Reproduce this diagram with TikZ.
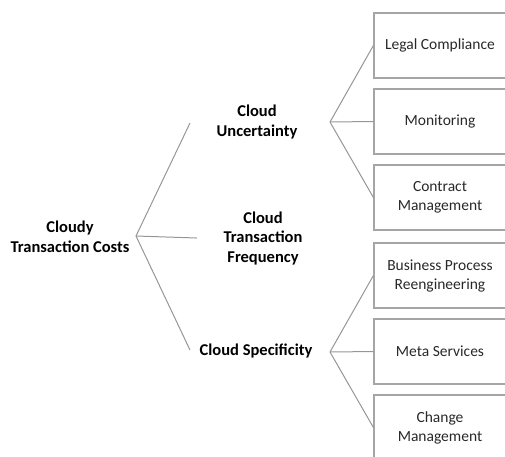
\documentclass[tikz,border=0pt]{standalone}
\usepackage{fontspec}
\setmainfont{Carlito}
\usetikzlibrary{positioning}
\definecolor{linecolor}{RGB}{150,150,150}
\definecolor{boxcolor}{RGB}{165,165,165}
\definecolor{textcolor}{RGB}{40,40,40}

\tikzset{
    mainlabel/.style={font=\fontsize{16.5}{19.5}\selectfont\bfseries, align=center, text=black},
    itembox/.style={draw=boxcolor, line width=1.2pt, minimum width=132pt, minimum height=65pt,
        font=\fontsize{15.5}{19}\selectfont, align=center, text=textcolor, inner sep=2pt},
    link/.style={draw=linecolor, line width=1pt}
}

\begin{document}
\begin{tikzpicture}[x=1pt, y=-1pt]
    \useasboundingbox (0,0) rectangle (505,456);
    \clip (0,0) rectangle (505,456);

    % Root and main factors
    \node[mainlabel] (costs) at (70, 237) {Cloudy\\Transaction Costs};
    \node[mainlabel] (uncert) at (257, 122) {Cloud\\Uncertainty};
    \node[mainlabel] (freq) at (263, 238) {Cloud\\Transaction\\Frequency};
    \node[mainlabel] (spec) at (256, 351) {Cloud Specificity};

    % Fan points
    \coordinate (rootFan) at (136, 236);
    \coordinate (uncertEnd) at (190, 123);
    \coordinate (freqEnd) at (197, 238);
    \coordinate (specEnd) at (190, 350);
    \coordinate (uncertFan) at (330, 122);
    \coordinate (specFan) at (330, 352);

    % Boxes on the right
    \node[itembox] (legal) at (440, 45.5) {Legal Compliance};
    \node[itembox] (monit) at (440, 121.5) {Monitoring};
    \node[itembox] (contract) at (440, 197.5) {Contract\\Management};
    \node[itembox] (bpr) at (440, 275.5) {Business Process\\Reengineering};
    \node[itembox] (meta) at (440, 351.5) {Meta Services};
    \node[itembox] (change) at (440, 427.5) {Change\\Management};

    % Connectors
    \foreach \e in {uncertEnd, freqEnd, specEnd}
        \draw[link] (rootFan) -- (\e);
    \foreach \b in {legal, monit, contract}
        \draw[link] (uncertFan) -- (\b.west);
    \foreach \b in {bpr, meta, change}
        \draw[link] (specFan) -- (\b.west);
\end{tikzpicture}
\end{document}
